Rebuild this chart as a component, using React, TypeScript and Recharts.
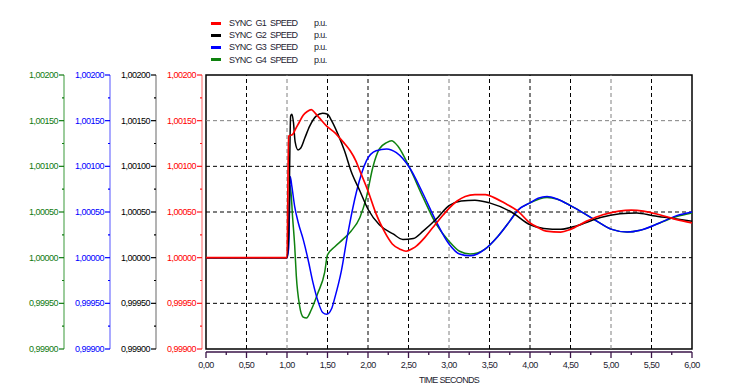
import React from "react";
import {
  LineChart,
  Line,
  XAxis,
  YAxis,
  Legend,
  ReferenceLine,
  ReferenceArea,
  Label
} from "recharts";

// time (s) and speed (p.u.), one pair of arrays per machine
const g1Time = [0, 1.0, 1.02, 1.07, 1.1, 1.15, 1.2, 1.25, 1.3, 1.35, 1.4, 1.49, 1.6, 1.65, 1.72, 1.78, 1.85, 1.9, 2.0, 2.1, 2.2, 2.3, 2.4, 2.47, 2.55, 2.6, 2.7, 2.8, 2.93, 3.0, 3.1, 3.2, 3.32, 3.45, 3.55, 3.68, 3.85, 4.0, 4.1, 4.2, 4.38, 4.5, 4.7, 4.9, 5.1, 5.25, 5.4, 5.6, 5.8, 6.0];
const g1Speed = [1.0, 1.0, 1.00133, 1.00135, 1.0014, 1.00148, 1.00156, 1.0016, 1.00162, 1.00158, 1.00153, 1.00144, 1.00136, 1.00131, 1.00124, 1.00117, 1.00106, 1.00095, 1.00073, 1.00048, 1.00029, 1.00015, 1.00009, 1.00007, 1.0001, 1.00013, 1.00022, 1.00033, 1.00047, 1.00054, 1.00062, 1.00067, 1.00069, 1.00069, 1.00066, 1.0006, 1.00051, 1.00038, 1.00033, 1.00029, 1.00028, 1.00031, 1.0004, 1.00047, 1.00051, 1.00052, 1.00051, 1.00047, 1.00042, 1.00038];

const g2Time = [0, 1.0, 1.02, 1.045, 1.06, 1.08, 1.1, 1.136, 1.17, 1.22, 1.28, 1.36, 1.44, 1.5, 1.55, 1.63, 1.71, 1.79, 1.9, 2.0, 2.14, 2.31, 2.43, 2.56, 2.68, 2.84, 3.0, 3.15, 3.32, 3.5, 3.77, 4.0, 4.17, 4.38, 4.58, 4.87, 5.11, 5.32, 5.52, 5.77, 6.0];
const g2Speed = [1.0, 1.0, 1.00026, 1.00155, 1.00157, 1.00148, 1.00127, 1.00118, 1.0012, 1.00131, 1.00144, 1.00155, 1.00158, 1.00157, 1.0015, 1.00135, 1.00117, 1.00095, 1.00073, 1.00053, 1.00036, 1.00026, 1.0002, 1.00021, 1.00029, 1.00042, 1.00057, 1.00062, 1.00063, 1.0006, 1.0005, 1.00036, 1.00032, 1.00031, 1.00035, 1.00044, 1.00048, 1.00049, 1.00046, 1.00043, 1.0004];

const g3Time = [0, 1.0, 1.02, 1.04, 1.06, 1.095, 1.14, 1.2, 1.26, 1.32, 1.38, 1.44, 1.49, 1.55, 1.59, 1.67, 1.75, 1.86, 1.98, 2.1, 2.23, 2.35, 2.51, 2.68, 2.84, 3.0, 3.13, 3.26, 3.35, 3.44, 3.6, 3.75, 3.85, 4.0, 4.1, 4.21, 4.34, 4.5, 4.79, 5.01, 5.2, 5.36, 5.6, 5.81, 6.0];
const g3Speed = [1.0, 1.0, 1.0001, 1.00089, 1.00078, 1.00056, 1.00038, 1.0002, 0.99998, 0.99973, 0.99953, 0.9994, 0.99938, 0.99944, 0.99956, 0.99985, 1.00026, 1.00073, 1.00106, 1.00117, 1.00119, 1.00115, 1.00099, 1.0007, 1.0004, 1.00015, 1.00004, 1.00002, 1.00004, 1.00009, 1.00023, 1.0004, 1.00052, 1.0006, 1.00065, 1.00067, 1.00064, 1.00057, 1.00042, 1.00031, 1.00028, 1.0003, 1.00038, 1.00046, 1.0005];

const g4Time = [0, 1.0, 1.02, 1.04, 1.07, 1.095, 1.115, 1.156, 1.2, 1.24, 1.3, 1.38, 1.465, 1.5, 1.59, 1.69, 1.79, 1.9, 1.98, 2.06, 2.14, 2.23, 2.29, 2.37, 2.51, 2.68, 2.84, 3.0, 3.13, 3.26, 3.35, 3.44, 3.6, 3.75, 3.85, 4.0, 4.21, 4.34, 4.5, 4.79, 5.01, 5.2, 5.36, 5.6, 5.81, 6.0];
const g4Speed = [1.0, 1.0, 1.0002, 1.00079, 1.00043, 1.00013, 0.9998, 0.99947, 0.99935, 0.99934, 0.99943, 0.99961, 0.99984, 1.00003, 1.00012, 1.0002, 1.00029, 1.00044, 1.00066, 1.00099, 1.00119, 1.00126, 1.00128, 1.00122, 1.00099, 1.00066, 1.00037, 1.00018, 1.00007, 1.00004, 1.00005, 1.00009, 1.00023, 1.0004, 1.00052, 1.0006, 1.00066, 1.00064, 1.00057, 1.00042, 1.00031, 1.00028, 1.0003, 1.00038, 1.00045, 1.00049];

const seriesNames = ["SYNC  G1  SPEED", "SYNC  G2  SPEED", "SYNC  G3  SPEED", "SYNC  G4  SPEED"];

// axis ticks: majors carry a label, the ones between are minor marks
const xTicks = [0, 0.25, 0.5, 0.75, 1, 1.25, 1.5, 1.75, 2, 2.25, 2.5, 2.75, 3, 3.25, 3.5, 3.75, 4, 4.25, 4.5, 4.75, 5, 5.25, 5.5, 5.75, 6];
const yTicks = [0.999, 0.99925, 0.9995, 0.99975, 1.0, 1.00025, 1.0005, 1.00075, 1.001, 1.00125, 1.0015, 1.00175, 1.002];
const gridTimes = [0.5, 1, 1.5, 2, 2.5, 3, 3.5, 4, 4.5, 5, 5.5];
const grayGridTimes = [1, 3, 5];
const gridLevels = [0.9995, 1.0, 1.0005, 1.001, 1.0015];
const grayGridLevels = [1.0015];

const zip = (t: number[], v: number[]) => t.map((x, i) => ({ t: x, v: v[i] }));

const FONT = "'Liberation Sans', Arial, sans-serif";
const Y_DOMAIN: [number, number] = [0.999, 1.002];

function XTick({ x, y, payload }: any) {
  const v = payload.value as number;
  const major = Math.round(v * 4) % 2 === 0;
  return (
    <g>
      <line x1={x} x2={x} y1={y} y2={y + (major ? 6 : 3)} stroke="#3a1448" strokeWidth={1.3} />
      {major && (
        <text x={x} y={y + 16} textAnchor="middle" fontSize={9} fill="#1c1c30" letterSpacing={-0.5} fontFamily={FONT}>
          {v.toFixed(2).replace(".", ",")}
        </text>
      )}
    </g>
  );
}

function makeYTick(textColor: string, tickColor: string) {
  return function YTick({ x, y, payload }: any) {
    const v = payload.value as number;
    const major = Math.round((v - 0.999) / 0.00025) % 2 === 0;
    return (
      <g>
        <line x1={x - (major ? 5 : 2)} x2={x} y1={y} y2={y} stroke={tickColor} strokeWidth={1.2} />
        {major && (
          <text x={x - 6} y={y + 3} textAnchor="end" fontSize={9} fill={textColor} letterSpacing={-0.5} fontFamily={FONT}>
            {v.toFixed(5).replace(".", ",")}
          </text>
        )}
      </g>
    );
  };
}

// nearest the plot first; ids sort in the same order they are declared
const axes = [
  { id: "y1", text: "#ff0000", tick: "#ff2020", line: "#ff8080" },
  { id: "y2", text: "#000000", tick: "#000000", line: "#808080" },
  { id: "y3", text: "#0000ff", tick: "#0000ff", line: "#7070ff" },
  { id: "y4", text: "#117a11", tick: "#117a11", line: "#5aaa5a" }
];

function LegendBox({ payload }: any) {
  const items = [...(payload || [])].sort(
    (a: any, b: any) => seriesNames.indexOf(a.value) - seriesNames.indexOf(b.value)
  );
  return (
    <div style={{ fontFamily: FONT, fontSize: 9, color: "#1c1c30", letterSpacing: -0.6 }}>
      {items.map((p: any) => (
        <div key={p.value} style={{ display: "flex", alignItems: "center", height: 12.2 }}>
          <span style={{ width: 10, height: 3, background: p.color, marginLeft: 7, marginRight: 8 }} />
          <span style={{ whiteSpace: "pre", width: 85 }}>{p.value}</span>
          <span>p.u.</span>
        </div>
      ))}
    </div>
  );
}

export default function App() {
  return (
    <div style={{ position: "absolute", left: 0, top: 0, background: "#fff" }}>
      <LineChart width={730} height={388} margin={{ top: 75, right: 38, bottom: 0, left: 18 }}>
        <XAxis xAxisId="x0" type="number" domain={[0, 6]} height={3} tick={false} axisLine={false} tickLine={false} />
        <XAxis
          xAxisId="x1"
          dataKey="t"
          type="number"
          domain={[0, 6]}
          ticks={xTicks}
          interval={0}
          height={36}
          tickSize={0}
          tickMargin={0}
          tickLine={false}
          tick={<XTick />}
          axisLine={{ stroke: "#3a1448", strokeWidth: 1.5 }}
        >
          <Label value="TIME SECONDS" position="insideBottom" offset={5} fontSize={9} fill="#1c1c30" letterSpacing={-0.7} fontFamily={FONT} />
        </XAxis>
        <YAxis yAxisId="y0" domain={Y_DOMAIN} width={4} tick={false} axisLine={false} tickLine={false} />
        {axes.map((a) => (
          <YAxis
            key={a.id}
            yAxisId={a.id}
            type="number"
            domain={Y_DOMAIN}
            ticks={yTicks}
            interval={0}
            allowDataOverflow
            width={46}
            tickSize={0}
            tickMargin={0}
            tickLine={false}
            tick={makeYTick(a.text, a.tick)}
            axisLine={{ stroke: a.line, strokeWidth: 1.2 }}
          />
        ))}
        {gridTimes.map((t) => (
          <ReferenceLine
            key={"vt" + t}
            x={t}
            xAxisId="x1"
            yAxisId="y1"
            stroke={grayGridTimes.includes(t) ? "#808080" : "#000"}
            strokeDasharray="4 3"
            strokeWidth={1}
          />
        ))}
        {gridLevels.map((v) => (
          <ReferenceLine
            key={"hl" + v}
            y={v}
            xAxisId="x1"
            yAxisId="y1"
            stroke={grayGridLevels.includes(v) ? "#808080" : "#000"}
            strokeDasharray="4 3"
            strokeWidth={1}
          />
        ))}
        <ReferenceArea x1={0} x2={6} y1={0.999} y2={1.002} xAxisId="x1" yAxisId="y1" fill="none" stroke="#000" strokeWidth={1.5} />
        <Line data={zip(g4Time, g4Speed)} dataKey="v" name={seriesNames[3]} xAxisId="x1" yAxisId="y4" type="monotone" stroke="#0f820f" strokeWidth={1.5} dot={false} isAnimationActive={false} />
        <Line data={zip(g3Time, g3Speed)} dataKey="v" name={seriesNames[2]} xAxisId="x1" yAxisId="y3" type="monotone" stroke="#0000ff" strokeWidth={1.5} dot={false} isAnimationActive={false} />
        <Line data={zip(g2Time, g2Speed)} dataKey="v" name={seriesNames[1]} xAxisId="x1" yAxisId="y2" type="monotone" stroke="#000000" strokeWidth={1.5} dot={false} isAnimationActive={false} />
        <Line data={zip(g1Time, g1Speed)} dataKey="v" name={seriesNames[0]} xAxisId="x1" yAxisId="y1" type="monotone" stroke="#ff0000" strokeWidth={1.7} dot={false} isAnimationActive={false} />
        <Legend
          layout="vertical"
          align="center"
          verticalAlign="middle"
          content={<LegendBox />}
          wrapperStyle={{ top: 17, left: 204, width: "auto" }}
        />
      </LineChart>
    </div>
  );
}
